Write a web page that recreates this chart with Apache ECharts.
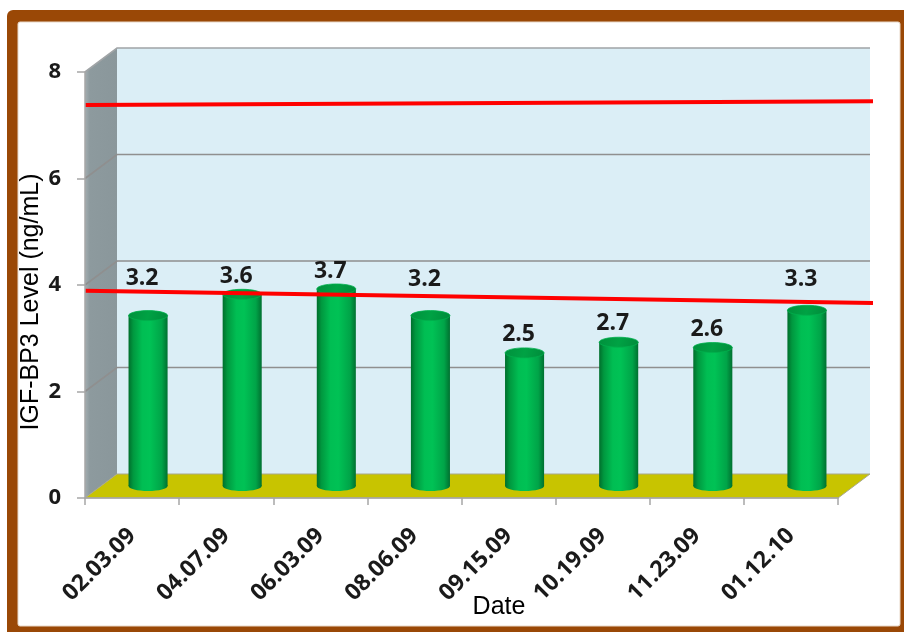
<!DOCTYPE html>
<html><head><meta charset="utf-8">
<script src="https://cdn.jsdelivr.net/npm/echarts@6/dist/echarts.min.js"></script>
<style>html,body{margin:0;padding:0;background:#fff}#c{width:904px;height:632px}</style>
</head><body><div id="c"></div>
<script>
// ---- data ----
const categories = ['02.03.09','04.07.09','06.03.09','08.06.09','09.15.09','10.19.09','11.23.09','01.12.10'];
const values = [3.2, 3.6, 3.7, 3.2, 2.5, 2.7, 2.6, 3.3];
const yTicks = [0, 2, 4, 6, 8];
const refX = [0, 1];
const upperRef = [7.38, 7.45];
const lowerRef = [3.89, 3.66];

// ---- style constants ----
const DX = 32, DY = -24;               // depth offset of the back wall
const labelLift = [37, 18, 18, 36, 18, 19, 18, 31];
const boldFont = 'Open Sans';

const chart = echarts.init(document.getElementById('c'), null, {renderer: 'canvas'});

function wallsRender(params, api) {
  const cs = params.coordSys;
  const x0 = cs.x, x1 = cs.x + cs.width;
  const yBot = api.coord([0, yTicks[0]])[1];
  const yTop = api.coord([0, yTicks[yTicks.length - 1]])[1];
  const ch = [];
  ch.push({type: 'polygon', shape: {points: [[x0 + DX, yTop + DY], [x1 + DX, yTop + DY], [x1 + DX, yBot + DY], [x0 + DX, yBot + DY]]},
    style: {fill: '#dbeef6'}});
  ch.push({type: 'polygon', shape: {points: [[x0, yTop], [x0 + DX, yTop + DY], [x0 + DX, yBot + DY], [x0, yBot]]},
    style: {fill: new echarts.graphic.LinearGradient(0, 0, 1, 0, [{offset: 0, color: '#a3adb0'}, {offset: 0.15, color: '#8d9a9e'}, {offset: 1, color: '#8a979b'}])}});
  yTicks.forEach(t => {
    if (t === yTicks[0]) return;
    const y = api.coord([0, t])[1];
    ch.push({type: 'polyline', shape: {points: [[x0, y], [x0 + DX, y + DY], [x1 + DX, y + DY]]},
      style: {stroke: t === yTicks[yTicks.length - 1] ? '#a0a4a6' : '#8f8f8f', lineWidth: 1.6, fill: null}});
  });
  ch.push({type: 'polygon', shape: {points: [[x0, yBot], [x1, yBot], [x1 + DX, yBot + DY], [x0 + DX, yBot + DY]]},
    style: {fill: '#c8c400', stroke: '#a8a88a', lineWidth: 1}});
  return {type: 'group', children: ch};
}

function cylRender(params, api) {
  const i = api.value(0), v = api.value(1);
  const base = api.coord([i, 0]), top = api.coord([i, v]);
  const bw = api.size([1, 0])[0] * 0.415;
  const cx = base[0] + DX / 2, yb = base[1] + DY / 2, yt = top[1] + DY / 2;
  const rx = bw / 2, ry = 5;
  const bodyGrad = new echarts.graphic.LinearGradient(0, 0, 1, 0, [
    {offset: 0, color: '#006e2c'}, {offset: 0.12, color: '#00983f'}, {offset: 0.35, color: '#00be53'},
    {offset: 0.55, color: '#00c255'}, {offset: 0.85, color: '#00a448'}, {offset: 1, color: '#007030'}]);
  const topGrad = new echarts.graphic.LinearGradient(0, 0, 1, 1, [
    {offset: 0, color: '#00903c'}, {offset: 0.5, color: '#00a244'}, {offset: 1, color: '#008a3a'}]);
  return {type: 'group', children: [
    {type: 'ellipse', shape: {cx: cx, cy: yb, rx: rx, ry: ry}, style: {fill: bodyGrad}},
    {type: 'rect', shape: {x: cx - rx, y: yt, width: bw, height: yb - yt}, style: {fill: bodyGrad}},
    {type: 'ellipse', shape: {cx: cx, cy: yt, rx: rx, ry: ry}, style: {fill: topGrad, stroke: '#00b04c', lineWidth: 0.8}},
    {type: 'text', x: cx - 6, y: yt - labelLift[params.dataIndex],
      style: {text: v.toFixed(1), fill: '#1a1a1a', fontSize: 23, fontWeight: 'bold', fontFamily: boldFont,
        align: 'center', verticalAlign: 'middle', textAlign: 'center', textVerticalAlign: 'middle'}}
  ]};
}

const option = {
  animation: false,
  backgroundColor: '#ffffff',
  graphic: [
    {type: 'rect', z: -10, shape: {x: 7, y: 10, width: 930, height: 640, r: 6}, style: {fill: '#9a4806'}},
    {type: 'rect', z: -9, shape: {x: 18, y: 22, width: 882, height: 604, r: 2}, style: {fill: '#ffffff', stroke: '#e8d8c8', lineWidth: 1}},
    {type: 'text', z: 10, x: 31, y: 302, rotation: Math.PI / 2,
      style: {text: 'IGF-BP3 Level (ng/mL)', fill: '#000', fontSize: 25, fontFamily: 'Liberation Sans',
        align: 'center', verticalAlign: 'middle'}},
    {type: 'text', z: 10, x: 499, y: 607,
      style: {text: 'Date', fill: '#000', fontSize: 25, fontFamily: 'Liberation Sans',
        align: 'center', verticalAlign: 'middle'}}
  ],
  grid: [
    {left: 85, top: 72, width: 753, height: 426},
    {left: 85, top: 72, width: 788, height: 426}
  ],
  xAxis: [
    {type: 'category', gridIndex: 0, data: categories, boundaryGap: true, z: 5,
      axisLine: {show: true, lineStyle: {color: '#a6a6a6', width: 1.5}},
      axisTick: {show: true, length: 7, interval: 0, lineStyle: {color: '#a6a6a6', width: 1.5}},
      axisLabel: {interval: 0, rotate: 45, margin: 34, color: '#1a1a1a', fontSize: 23, fontWeight: 'bold', fontFamily: boldFont},
      splitLine: {show: false}},
    {type: 'value', gridIndex: 1, min: 0, max: 1, show: false}
  ],
  yAxis: [
    {type: 'value', gridIndex: 0, min: 0, max: 8, interval: 2, z: 5,
      axisLine: {show: true, lineStyle: {color: '#a6a6a6', width: 1.5}},
      axisTick: {show: true, length: 8, lineStyle: {color: '#a6a6a6', width: 1.5}},
      axisLabel: {margin: 24, color: '#1a1a1a', fontSize: 22, fontWeight: 'bold', fontFamily: boldFont},
      splitLine: {show: false}},
    {type: 'value', gridIndex: 1, min: 0, max: 8, show: false}
  ],
  series: [
    {type: 'custom', xAxisIndex: 0, yAxisIndex: 0, z: 1, silent: true, renderItem: wallsRender, data: [[0, 0]]},
    {type: 'custom', xAxisIndex: 0, yAxisIndex: 0, z: 2, silent: true, renderItem: cylRender,
      data: values.map((v, i) => [i, v])},
    {type: 'line', xAxisIndex: 1, yAxisIndex: 1, z: 4, silent: true, symbol: 'none',
      lineStyle: {color: '#ff0000', width: 4}, data: refX.map((x, i) => [x, upperRef[i]])},
    {type: 'line', xAxisIndex: 1, yAxisIndex: 1, z: 4, silent: true, symbol: 'none',
      lineStyle: {color: '#ff0000', width: 4}, data: refX.map((x, i) => [x, lowerRef[i]])}
  ]
};
chart.setOption(option);
</script>
</body></html>
